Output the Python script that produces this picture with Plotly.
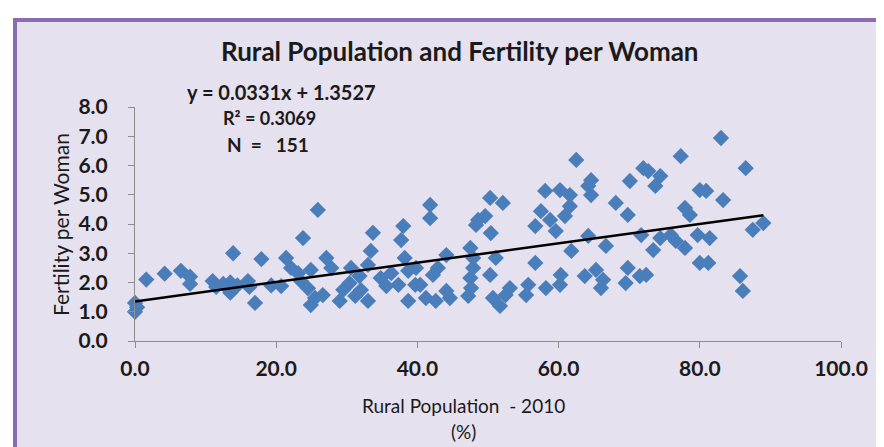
import plotly.graph_objects as go

rural_pct = [0.0, 0.0, 0.3, 1.6, 4.2, 6.5, 7.8, 7.8, 11.0, 11.5, 12.5, 13.9, 13.5, 13.5, 14.5, 16.0, 16.2,
             17.0, 17.9, 19.3, 20.7, 21.4, 22.1, 23.1, 23.5, 23.8, 24.5, 24.9, 24.9, 25.5, 25.9, 26.6,
             27.1, 27.8, 29.0, 29.5, 30.4, 30.6, 31.2, 31.8, 32.0, 33.0, 33.4, 33.7, 33.0, 34.8, 35.6,
             36.3, 37.3, 37.7, 38.0, 38.2, 38.7, 38.7, 39.7, 39.8, 40.4, 41.2, 41.8, 41.8, 42.2, 42.9,
             42.6, 44.1, 44.1, 44.6, 47.5, 47.9, 47.9, 47.5, 47.6, 47.2, 48.3, 48.6, 49.6, 50.3, 52.1,
             50.4, 51.1, 50.3, 50.7, 51.7, 52.5, 53.1, 55.4, 55.7, 56.7, 56.7, 57.5, 58.1, 58.8, 58.2,
             59.6, 60.2, 60.2, 62.5, 61.6, 61.6, 60.9, 64.2, 64.6, 64.2, 64.6, 61.8, 60.3, 63.7, 65.3,
             66.3, 66.0, 66.7, 68.1, 69.8, 70.1, 69.8, 69.5, 71.5, 72.4, 72.0, 72.7, 74.4, 73.7, 71.7,
             73.4, 74.4, 75.9, 77.3, 77.9, 78.6, 76.6, 77.9, 79.7, 80.0, 80.9, 80.0, 83.0, 86.5, 83.3,
             81.4, 81.2, 87.5, 89.0, 85.7, 86.1]
fertility = [1.3, 1.0, 1.15, 2.1, 2.3, 2.4, 2.2, 1.95, 2.05, 1.85, 1.95, 3.0, 1.65, 2.0, 1.9, 2.05, 1.85,
             1.3, 2.8, 1.9, 1.88, 2.84, 2.5, 2.32, 2.05, 3.52, 1.8, 2.43, 1.23, 1.47, 4.48, 1.57,
             2.84, 2.5, 1.37, 1.75, 1.98, 2.5, 1.54, 2.22, 1.74, 2.6, 3.08, 3.7, 1.37, 2.15, 1.88,
             2.32, 1.92, 3.45, 3.93, 2.84, 2.4, 1.37, 1.92, 2.5, 1.92, 1.47, 4.65, 4.2, 2.26, 2.5,
             1.37, 2.94, 1.71, 1.47, 3.18, 2.84, 2.5, 2.15, 1.81, 1.54, 3.97, 4.14, 4.27, 4.89, 4.72,
             3.69, 2.84, 2.26, 1.47, 1.2, 1.57, 1.81, 1.57, 1.92, 2.67, 3.93, 4.44, 5.13, 4.14, 1.81,
             3.76, 5.16, 1.92, 6.19, 4.99, 4.61, 4.27, 3.59, 5.5, 5.3, 4.99, 3.08, 2.26, 2.22, 2.43,
             2.09, 1.81, 3.25, 4.72, 4.31, 5.47, 2.5, 1.98, 2.22, 2.26, 5.91, 5.81, 5.64, 5.3, 3.62,
             3.11, 3.52, 3.62, 6.32, 4.55, 4.31, 3.42, 3.18, 3.62, 5.16, 5.13, 2.67, 6.94, 5.91, 4.82,
             3.52, 2.67, 3.8, 4.03, 2.22, 1.71]

slope = 0.0331
intercept = 1.3527
trend_x = [min(rural_pct), max(rural_pct)]
trend_y = [slope * v + intercept for v in trend_x]

x_ticks = [0, 20, 40, 60, 80, 100]
y_ticks = [0, 1, 2, 3, 4, 5, 6, 7, 8]

W, H = 884, 447
L, R, T, B = 127, 51, 99, 114
pw, ph = W - L - R, H - T - B

def px(x):
    return (x - L) / pw

def py(y):
    return (H - B - y) / ph

FONT = "Lato"
TXT = "#1a1a1a"
LAV = "#E6E1EE"
NB = "\u00a0"

fig = go.Figure()
fig.add_trace(go.Scatter(
    x=rural_pct, y=fertility, mode="markers",
    marker=dict(symbol="diamond", size=12.5, color="#4A7EBB", line=dict(width=0)),
    cliponaxis=False, showlegend=False))
fig.add_trace(go.Scatter(
    x=trend_x, y=trend_y, mode="lines",
    line=dict(color="black", width=2.5), showlegend=False, cliponaxis=False))

fig.update_layout(
    width=W, height=H,
    margin=dict(l=L, r=R, t=T, b=B),
    paper_bgcolor="white", plot_bgcolor="rgba(0,0,0,0)",
    showlegend=False,
    shapes=[
        dict(type="rect", xref="paper", yref="paper", layer="below",
             x0=px(7), x1=px(1000), y0=py(520), y1=py(12),
             fillcolor=LAV, line=dict(color="#8A6DB0", width=4)),
    ],
    xaxis=dict(range=[0, 100], tickvals=x_ticks, ticktext=[f"{v:.1f}" for v in x_ticks],
               showgrid=False, zeroline=False, showline=True, linecolor="#8c8c8c", linewidth=1,
               ticks="outside", ticklen=6, tickcolor="#8c8c8c",
               tickfont=dict(family=FONT, size=21, color=TXT, weight="bold"),
               ticklabelstandoff=3),
    yaxis=dict(range=[0, 8], tickvals=y_ticks, ticktext=[f"{v:.1f}" for v in y_ticks],
               showgrid=False, zeroline=False, showline=True, linecolor="#8c8c8c", linewidth=1,
               ticks="outside", ticklen=6, tickcolor="#8c8c8c",
               tickfont=dict(family=FONT, size=21, color=TXT, weight="bold"),
               ticklabelstandoff=16),
)

ann = [
    dict(text="Rural Population and Fertility per Woman", x=px(452), y=py(43),
         size=26, weight="bold"),
    dict(text="y = 0.0331x + 1.3527", x=px(273), y=py(84), size=20, weight="bold"),
    dict(text="R² = 0.3069", x=px(261), y=py(110), size=18, weight="bold"),
    dict(text=f"N{NB}{NB}={NB}{NB}{NB}151", x=px(260), y=py(136), size=19, weight="bold"),
    dict(text="Rural Population  - 2010", x=px(455), y=py(397), size=19, weight="normal"),
    dict(text="(%)", x=px(455), y=py(423), size=19, weight="normal"),
]
for a in ann:
    fig.add_annotation(text=a["text"], x=a["x"], y=a["y"], xref="paper", yref="paper",
                       showarrow=False, xanchor="center", yanchor="middle",
                       font=dict(family=FONT, size=a["size"], color=TXT, weight=a["weight"]))
fig.add_annotation(text="Fertility per Woman", x=px(52), y=py(217), xref="paper", yref="paper",
                   showarrow=False, textangle=-90, xanchor="center", yanchor="middle",
                   font=dict(family=FONT, size=21, color=TXT))

fig.write_html("out.html")
